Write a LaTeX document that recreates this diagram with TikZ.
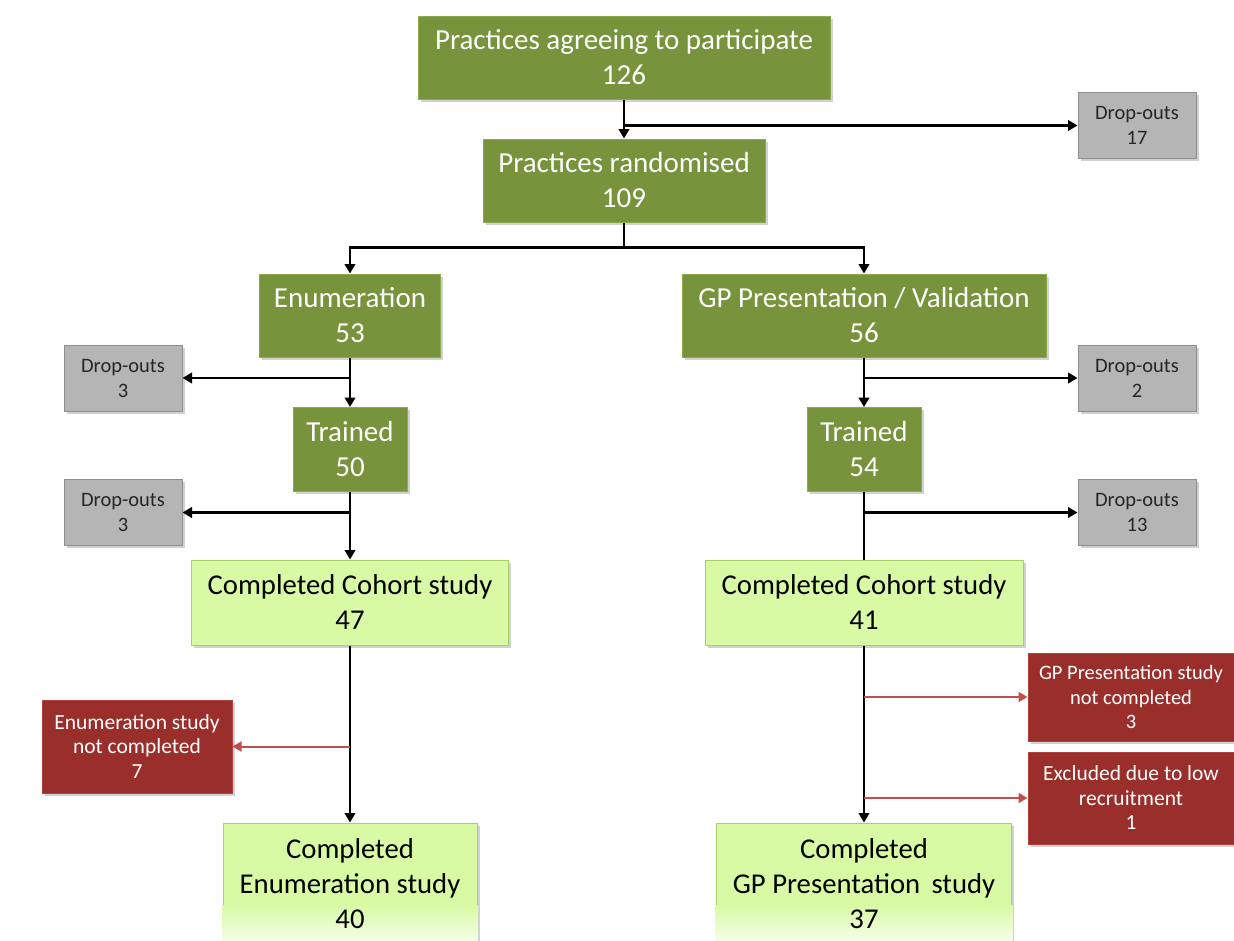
\documentclass[tikz,border=0pt]{standalone}
\usepackage{fontspec}
\setmainfont{Carlito}
\usetikzlibrary{shadows,arrows.meta}

\definecolor{olivefill}{HTML}{77933C}
\definecolor{oliveedge}{HTML}{8AAA4C}
\definecolor{grayfill}{HTML}{B5B5B5}
\definecolor{grayedge}{HTML}{8E8E8E}
\definecolor{litefill}{HTML}{D8FAA4}
\definecolor{liteedge}{HTML}{A8CF6A}
\definecolor{redfill}{HTML}{9A2E2B}
\definecolor{rededge}{HTML}{B0413E}
\definecolor{redline}{HTML}{C0504D}

\tikzset{
  box/.style={rectangle, inner sep=0pt, align=center, line width=1pt,
    drop shadow={shadow xshift=2.5pt, shadow yshift=-2.5pt, opacity=0.3, fill=black!60}},
  greenbox/.style={box, fill=olivefill, draw=oliveedge, text=white,
    font=\fontsize{29}{35}\selectfont},
  dropbox/.style={box, fill=grayfill, draw=grayedge, text=black!85,
    minimum width=118pt, minimum height=66pt, font=\fontsize{20.5}{25}\selectfont},
  litebox/.style={box, fill=litefill, draw=liteedge, text=black,
    font=\fontsize{28.7}{35}\selectfont},
  bigtext/.style={align=center, inner sep=0pt, text=black, font=\fontsize{28.7}{35}\selectfont},
  redbox/.style={box, fill=redfill, draw=rededge, text=white,
    font=\fontsize{21.5}{24.5}\selectfont},
  link/.style={line width=2.6pt, black},
  arr/.style={link, -{Triangle[width=10.5pt,length=9.5pt]}},
  redarr/.style={line width=2pt, redline, -{Triangle[width=10pt,length=9pt]}}
}

\begin{document}
\begin{tikzpicture}[x=1pt,y=-1pt]
\useasboundingbox (0,0) rectangle (1234,940);
\clip (0,0) rectangle (1234,940);

% main column boxes
\node[greenbox, minimum width=412pt, minimum height=83pt] (top) at (624,57.5)
  {Practices agreeing to participate\\126};
\node[greenbox, minimum width=282pt, minimum height=83pt] (rand) at (624,180.5)
  {Practices randomised\\109};
\node[dropbox] (d17) at (1137,125.5) {Drop-outs\\17};

% two arms
\node[greenbox, minimum width=181pt, minimum height=83pt] (enum) at (350,315.5)
  {Enumeration\\53};
\node[greenbox, minimum width=364pt, minimum height=83pt] (gp) at (864,315.5)
  {GP Presentation / Validation\\56};

\node[dropbox] (dl1) at (123,378) {Drop-outs\\3};
\node[dropbox] (dr1) at (1137,378) {Drop-outs\\2};

\node[greenbox, minimum width=114pt, minimum height=84pt] (tr50) at (350,449.5)
  {Trained\\50};
\node[greenbox, minimum width=114pt, minimum height=84pt] (tr54) at (864,449.5)
  {Trained\\54};

\node[dropbox] (dl2) at (123,512.5) {Drop-outs\\3};
\node[dropbox] (dr2) at (1137,512.5) {Drop-outs\\13};

\node[litebox, minimum width=317pt, minimum height=85pt] (coh47) at (350,602.5)
  {Completed Cohort study\\47};
\node[litebox, minimum width=318pt, minimum height=85pt] (coh41) at (864,602.5)
  {Completed Cohort study\\41};

% exclusions
\node[redbox, minimum width=190pt, minimum height=93pt] (rl) at (137,746.5)
  {Enumeration study\\not completed\\7};
\node[redbox, minimum width=206pt, minimum height=88pt, font=\fontsize{20.5}{24.5}\selectfont] (r1) at (1131,697)
  {GP Presentation study\\not completed\\3};
\node[redbox, minimum width=206pt, minimum height=92pt] (r2) at (1131,798)
  {Excluded due to low\\recruitment\\1};

% final boxes, fading out at the lower edge
\node[litebox, minimum width=254pt, minimum height=122pt] (fin1) at (350,884) {};
\node[litebox, minimum width=295pt, minimum height=122pt] (fin2) at (864,884) {};
\shade[top color=litefill, bottom color=litefill!25!white]
  ([xshift=-0.5pt]fin1.south west |- 0,905) rectangle ([xshift=0.5pt]fin1.south east |- 0,941);
\shade[top color=litefill, bottom color=litefill!25!white]
  ([xshift=-0.5pt]fin2.south west |- 0,905) rectangle ([xshift=0.5pt]fin2.south east |- 0,941);
\node[bigtext] (fin1t) at (fin1.center) {Completed\\Enumeration study\\40};
\node[bigtext] (fin2t) at (fin2.center) {Completed\\GP Presentation\, study\\37};

% connectors
\draw[arr] (top.south) -- (rand.north);
\draw[arr] (top.south |- d17.west) -- (d17.west);
\draw[link] (rand.south) -- ++(0,25) coordinate (split);
\draw[arr] (split) -| (enum.north);
\draw[arr] (split) -| (gp.north);

\draw[arr] (enum.south) -- (tr50.north);
\draw[arr] (enum.south |- dl1.east) -- (dl1.east);
\draw[arr] (tr50.south) -- (coh47.north);
\draw[arr] (tr50.south |- dl2.east) -- (dl2.east);

\draw[arr] (gp.south) -- (tr54.north);
\draw[arr] (gp.south |- dr1.west) -- (dr1.west);
\draw[link] (tr54.south) -- (coh41.north);
\draw[arr] (tr54.south |- dr2.west) -- (dr2.west);

\draw[arr] (coh47.south) -- (fin1.north);
\draw[redarr] (coh47.south |- rl.east) -- (rl.east);
\draw[arr] (coh41.south) -- (fin2.north);
\draw[redarr] (coh41.south |- r1.west) -- (r1.west);
\draw[redarr] (coh41.south |- r2.west) -- (r2.west);
\end{tikzpicture}
\end{document}
